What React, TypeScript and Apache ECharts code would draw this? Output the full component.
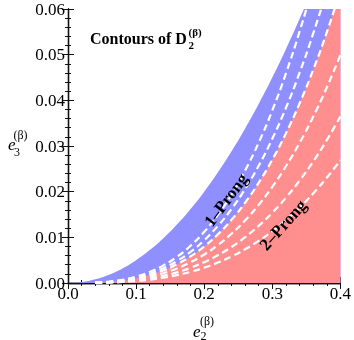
import React, { useEffect, useRef } from "react";
import * as echarts from "echarts";

// e2 sample positions
const xs = [0, 0.02, 0.04, 0.06, 0.08, 0.1, 0.12, 0.14, 0.16, 0.18, 0.2, 0.22, 0.24, 0.26, 0.28, 0.3, 0.32, 0.34, 0.36, 0.38, 0.4];
// upper edge of the 1-prong (blue) region
const upperEdge = [0, 0.0002, 0.0008, 0.0018, 0.0032, 0.005, 0.0072, 0.0098, 0.0128, 0.0162, 0.02, 0.0242, 0.0288, 0.0338, 0.0392, 0.045, 0.0512, 0.0578, 0.0648, 0.0722, 0.08];
// boundary between 1-prong (blue) and 2-prong (red) regions
const lowerEdge = [0, 0.000008, 0.000064, 0.000216, 0.000512, 0.001, 0.001728, 0.002744, 0.004096, 0.005832, 0.008, 0.010648, 0.013824, 0.017576, 0.021952, 0.027, 0.032768, 0.039304, 0.046656, 0.054872, 0.064];
// dashed contours of D2
const contourA = [0, 0.00001, 0.00009, 0.0003, 0.00072, 0.0014, 0.00242, 0.00384, 0.00573, 0.00816, 0.0112, 0.01491, 0.01935, 0.02461, 0.03073, 0.0378, 0.04588, 0.05503, 0.06532, 0.07682, 0.0896];
const contourB = [0, 0.00001, 0.000075, 0.00025, 0.0006, 0.00117, 0.00202, 0.00321, 0.00479, 0.00682, 0.00936, 0.01246, 0.01617, 0.02056, 0.02568, 0.03159, 0.03834, 0.04599, 0.05459, 0.0642, 0.07488];
const contourC = [0, 0.000008, 0.000064, 0.000216, 0.000512, 0.001, 0.001728, 0.002744, 0.004096, 0.005832, 0.008, 0.010648, 0.013824, 0.017576, 0.021952, 0.027, 0.032768, 0.039304, 0.046656, 0.054872, 0.064];
const contourD = [0, 0.000006, 0.00005, 0.000168, 0.0004, 0.00078, 0.00135, 0.00214, 0.00319, 0.00455, 0.00624, 0.00831, 0.01078, 0.01371, 0.01712, 0.02106, 0.02556, 0.03066, 0.03639, 0.0428, 0.04992];
const contourE = [0, 0.000005, 0.000036, 0.000123, 0.00029, 0.00057, 0.00098, 0.00156, 0.00233, 0.00332, 0.00456, 0.00607, 0.00788, 0.01002, 0.01251, 0.01539, 0.01868, 0.0224, 0.02659, 0.03128, 0.03648];
const contourF = [0, 0.000003, 0.000027, 0.00009, 0.00022, 0.00042, 0.00073, 0.00115, 0.00172, 0.00245, 0.00336, 0.00447, 0.00581, 0.00738, 0.00922, 0.01134, 0.01376, 0.01651, 0.0196, 0.02305, 0.02688];
const contours = [contourA, contourB, contourC, contourD, contourE, contourF];

const xTickLabels = ["0.0", "0.1", "0.2", "0.3", "0.4"];
const yTickLabels = ["0.00", "0.01", "0.02", "0.03", "0.04", "0.05", "0.06"];

const SERIF = "'Liberation Serif', 'DejaVu Serif', serif";
const BLUE = "#8f8fff";
const RED = "#ff8f8f";

const pairs = (ys: number[], from = 0) =>
  xs.map((x, i) => [x, ys[i]]).slice(from);

export default function App() {
  const ref = useRef<HTMLDivElement>(null);
  useEffect(() => {
    if (!ref.current) return;
    const chart = echarts.init(ref.current, null, { renderer: "svg" });
    const axisLine = { show: true, lineStyle: { color: "#111", width: 1.3 } };
    const tick = { show: true, inside: true, length: 6, lineStyle: { color: "#111", width: 1 } };
    const minor = { show: true, splitNumber: 5, length: 3, lineStyle: { color: "#111", width: 1 } };
    const labelStyle = { color: "#000", fontFamily: SERIF, fontSize: 17 };
    const txt = (text: string, x: number, y: number, size: number, opts: any = {}) => ({
      type: "text",
      x,
      y,
      rotation: opts.rotation || 0,
      z: 100,
      style: {
        text,
        fill: "#000",
        font: `${opts.italic ? "italic " : ""}${opts.bold ? "bold " : ""}${size}px ${SERIF}`,
        textAlign: opts.align || "left",
        textVerticalAlign: "middle",
      },
    });
    chart.setOption({
      animation: false,
      grid: { left: 68, top: 9, width: 274, height: 274 },
      xAxis: [
        {
          type: "value",
          min: 0,
          max: 0.4,
          interval: 0.1,
          axisLine,
          axisTick: tick,
          minorTick: minor,
          splitLine: { show: false },
          axisLabel: {
            ...labelStyle,
            margin: 2,
            formatter: (v: number) => xTickLabels[Math.round(v / 0.1)] ?? "",
          },
        },
        {
          type: "value",
          position: "top",
          min: 0,
          max: 0.4,
          interval: 0.1,
          axisLine,
          axisTick: tick,
          minorTick: minor,
          splitLine: { show: false },
          axisLabel: { show: false },
        },
      ],
      yAxis: [
        {
          type: "value",
          min: 0,
          max: 0.06,
          interval: 0.01,
          axisLine,
          axisTick: tick,
          minorTick: minor,
          splitLine: { show: false },
          axisLabel: {
            ...labelStyle,
            margin: 3,
            formatter: (v: number) => yTickLabels[Math.round(v / 0.01)] ?? "",
          },
        },
        {
          type: "value",
          position: "right",
          min: 0,
          max: 0.06,
          interval: 0.01,
          axisLine,
          axisTick: tick,
          minorTick: minor,
          splitLine: { show: false },
          axisLabel: { show: false },
        },
      ],
      series: [
        {
          type: "line",
          data: pairs(upperEdge),
          smooth: true,
          showSymbol: false,
          lineStyle: { width: 0 },
          areaStyle: { color: BLUE, opacity: 1 },
          z: 1,
        },
        {
          type: "line",
          data: pairs(lowerEdge),
          smooth: true,
          showSymbol: false,
          lineStyle: { width: 0 },
          areaStyle: { color: RED, opacity: 1 },
          z: 2,
        },
        ...contours.map((c) => ({
          type: "line",
          data: pairs(c, 2),
          smooth: true,
          showSymbol: false,
          lineStyle: { color: "#fff", width: 2.2, type: [7, 4] },
          z: 3,
        })),
      ],
      graphic: [
        txt("Contours of D", 90, 38.5, 16, { bold: true }),
        txt("2", 188.5, 44.5, 11, { bold: true }),
        txt("(β)", 188.5, 32, 11, { bold: true }),
        txt("1–Prong", 226, 200, 17, { bold: true, align: "center", rotation: 0.93 }),
        txt("2–Prong", 283, 225, 17, { bold: true, align: "center", rotation: 0.84 }),
        txt("e", 193, 331.5, 17, { italic: true }),
        txt("(β)", 200, 321, 12),
        txt("2", 200.5, 336, 12),
        txt("e", 8, 144.5, 17, { italic: true }),
        txt("(β)", 13.5, 135, 12),
        txt("3", 14, 152, 12),
      ],
    });
    return () => chart.dispose();
  }, []);
  return (
    <div
      ref={ref}
      style={{ position: "fixed", left: 0, top: 0, width: 354, height: 340 }}
    />
  );
}
